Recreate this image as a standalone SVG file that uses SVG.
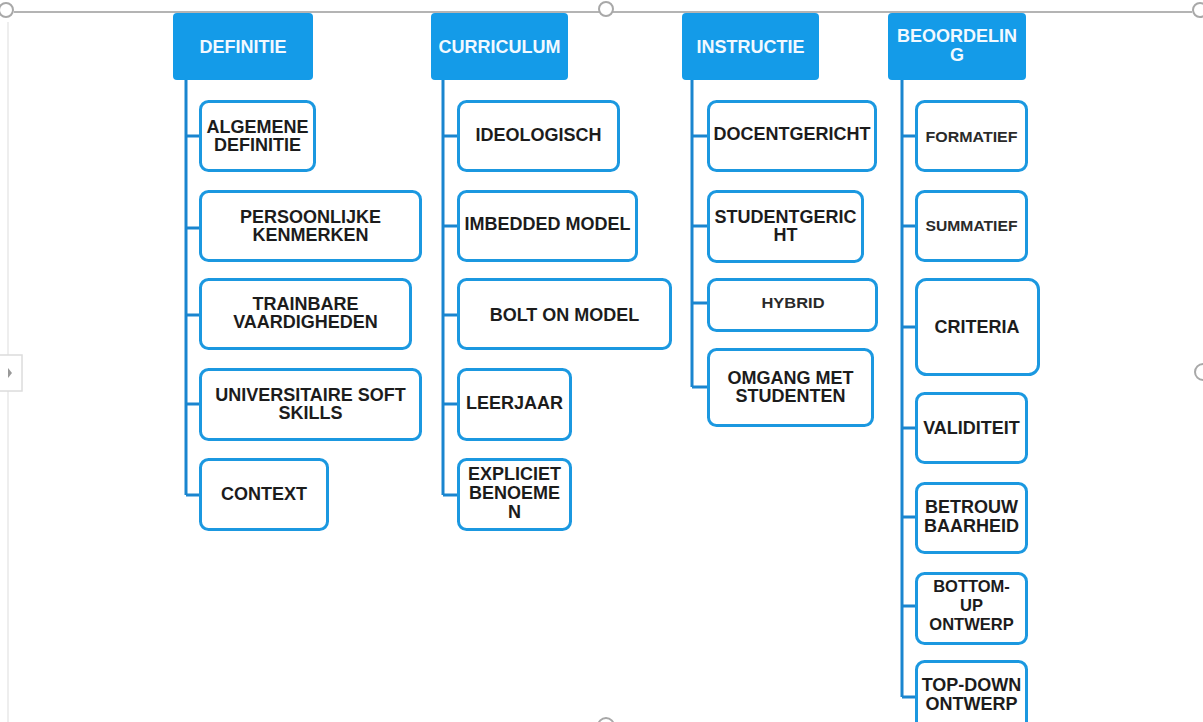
<svg xmlns="http://www.w3.org/2000/svg" width="1203" height="722" viewBox="0 0 1203 722">
<style>
.frame{fill:none;stroke:#b4b4b4;stroke-width:2}
.handle{fill:#fff;stroke:#a8a8a8;stroke-width:2}
.hdr{fill:#149be8}
.hdrt{font-family:"Liberation Sans",Arial,sans-serif;font-weight:bold;font-size:18px;fill:#f2f9ff;text-anchor:middle}
.box{fill:#fff;stroke:#1b98e0;stroke-width:3}
.t{font-family:"Liberation Sans",Arial,sans-serif;font-weight:bold;font-size:18px;fill:#1c1c1c;text-anchor:middle}
.t17{font-family:"Liberation Sans",Arial,sans-serif;font-weight:bold;font-size:16.5px;fill:#1c1c1c;text-anchor:middle}
.ts{font-family:"Liberation Sans",Arial,sans-serif;font-weight:bold;font-size:14px;fill:#2a2a2a;text-anchor:middle}
.con{fill:none;stroke:#1a85cf;stroke-width:3}
</style>
<rect width="1203" height="722" fill="#fff"/>
<g id="frame">
<line class="frame" x1="14" y1="12" x2="1192" y2="12"/>
<line x1="8" y1="22" x2="8" y2="722" stroke="#e8e8e8" stroke-width="1.5"/>
<circle class="handle" cx="6" cy="10" r="7"/>
<circle class="handle" cx="606" cy="9" r="7"/>
<circle class="handle" cx="1200" cy="10" r="7"/>
<circle class="handle" cx="1203" cy="372" r="8"/>
<circle class="handle" cx="606" cy="726" r="8"/>
<rect x="-2" y="355" width="24" height="36" fill="#fff" stroke="#dcdcdc" stroke-width="1.5"/>
<path d="M8 368 L12 373 L8 378 Z" fill="#999"/>
</g>
<g id="connectors">
<path class="con" d="M186 80 V495 M186 136 H199 M186 228 H199 M186 315 H199 M186 404 H199 M186 495 H199"/>
<path class="con" d="M443 80 V495 M443 136 H457 M443 226 H457 M443 315 H457 M443 404 H457 M443 495 H457"/>
<path class="con" d="M692 80 V387 M692 136 H707 M692 226 H707 M692 303 H707 M692 387 H707"/>
<path class="con" d="M902 80 V697 M902 136 H915 M902 226 H915 M902 327 H915 M902 428 H915 M902 517 H915 M902 606 H915 M902 697 H915"/>
</g>
<g id="definitie">
<rect class="hdr" x="173" y="13" width="140" height="67" rx="4"/>
<text class="hdrt" x="243" y="53">DEFINITIE</text>
</g>
<g id="curriculum">
<rect class="hdr" x="431" y="13" width="137" height="67" rx="4"/>
<text class="hdrt" x="499.5" y="53">CURRICULUM</text>
</g>
<g id="instructie">
<rect class="hdr" x="682" y="13" width="137" height="67" rx="4"/>
<text class="hdrt" x="750.5" y="53">INSTRUCTIE</text>
</g>
<g id="beoordeling">
<rect class="hdr" x="888" y="13" width="138" height="67" rx="4"/>
<text class="hdrt" x="957" y="42">BEOORDELIN</text>
<text class="hdrt" x="957" y="61">G</text>
</g>
<g id="algemene-definitie">
<rect class="box" x="200.5" y="101.5" width="114" height="69" rx="8"/>
<text class="t" x="257.5" y="133">ALGEMENE</text>
<text class="t" x="257.5" y="151">DEFINITIE</text>
</g>
<g id="persoonlijke-kenmerken">
<rect class="box" x="200.5" y="191.5" width="220" height="69" rx="8"/>
<text class="t" x="310.5" y="223">PERSOONLIJKE</text>
<text class="t" x="310.5" y="241">KENMERKEN</text>
</g>
<g id="trainbare-vaardigheden">
<rect class="box" x="200.5" y="279.5" width="210" height="69" rx="8"/>
<text class="t" x="305.5" y="310">TRAINBARE</text>
<text class="t" x="305.5" y="328">VAARDIGHEDEN</text>
</g>
<g id="universitaire-soft-skills">
<rect class="box" x="200.5" y="369.5" width="220" height="70" rx="8"/>
<text class="t" x="310.5" y="401">UNIVERSITAIRE SOFT</text>
<text class="t" x="310.5" y="419">SKILLS</text>
</g>
<g id="context">
<rect class="box" x="200.5" y="459.5" width="127" height="70" rx="8"/>
<text class="t" x="264" y="500">CONTEXT</text>
</g>
<g id="ideologisch">
<rect class="box" x="458.5" y="101.5" width="160" height="69" rx="8"/>
<text class="t" x="538.5" y="141">IDEOLOGISCH</text>
</g>
<g id="imbedded-model">
<rect class="box" x="458.5" y="191.5" width="178" height="69" rx="8"/>
<text class="t" x="547.5" y="230">IMBEDDED MODEL</text>
</g>
<g id="bolt-on-model">
<rect class="box" x="458.5" y="279.5" width="212" height="69" rx="8"/>
<text class="t" x="564.5" y="321">BOLT ON MODEL</text>
</g>
<g id="leerjaar">
<rect class="box" x="458.5" y="369.5" width="112" height="70" rx="8"/>
<text class="t" x="514.5" y="409">LEERJAAR</text>
</g>
<g id="expliciet-benoemen">
<rect class="box" x="458.5" y="459.5" width="112" height="70" rx="8"/>
<text class="t" x="514.5" y="480">EXPLICIET</text>
<text class="t" x="514.5" y="499">BENOEME</text>
<text class="t" x="514.5" y="518">N</text>
</g>
<g id="docentgericht">
<rect class="box" x="708.5" y="101.5" width="167" height="69" rx="8"/>
<text class="t" x="792" y="140">DOCENTGERICHT</text>
</g>
<g id="studentgericht">
<rect class="box" x="708.5" y="191.5" width="154" height="70" rx="8"/>
<text class="t" x="785.5" y="223">STUDENTGERIC</text>
<text class="t" x="785.5" y="241">HT</text>
</g>
<g id="hybrid">
<rect class="box" x="708.5" y="279.5" width="168" height="51" rx="8"/>
<text class="ts" x="793" y="308" textLength="63" lengthAdjust="spacingAndGlyphs">HYBRID</text>
</g>
<g id="omgang-met-studenten">
<rect class="box" x="708.5" y="349.5" width="164" height="76" rx="8"/>
<text class="t" x="790.5" y="384">OMGANG MET</text>
<text class="t" x="790.5" y="402">STUDENTEN</text>
</g>
<g id="formatief">
<rect class="box" x="916.5" y="101.5" width="110" height="69" rx="8"/>
<text class="ts" x="971.5" y="142" textLength="92" lengthAdjust="spacingAndGlyphs">FORMATIEF</text>
</g>
<g id="summatief">
<rect class="box" x="916.5" y="191.5" width="110" height="69" rx="8"/>
<text class="ts" x="971.5" y="231" textLength="92" lengthAdjust="spacingAndGlyphs">SUMMATIEF</text>
</g>
<g id="criteria">
<rect class="box" x="916.5" y="279.5" width="122" height="95" rx="10"/>
<text class="t" x="977" y="333">CRITERIA</text>
</g>
<g id="validiteit">
<rect class="box" x="916.5" y="393.5" width="110" height="69" rx="8"/>
<text class="t" x="971.5" y="434">VALIDITEIT</text>
</g>
<g id="betrouwbaarheid">
<rect class="box" x="916.5" y="483.5" width="110" height="69" rx="8"/>
<text class="t" x="971.5" y="513">BETROUW</text>
<text class="t" x="971.5" y="532">BAARHEID</text>
</g>
<g id="bottom-up-ontwerp">
<rect class="box" x="916.5" y="573.5" width="110" height="70" rx="8"/>
<text class="t17" x="971.5" y="592">BOTTOM-</text>
<text class="t17" x="971.5" y="611">UP</text>
<text class="t17" x="971.5" y="630">ONTWERP</text>
</g>
<g id="top-down-ontwerp">
<rect class="box" x="916.5" y="661.5" width="110" height="75" rx="8"/>
<text class="t" x="971.5" y="691">TOP-DOWN</text>
<text class="t" x="971.5" y="710">ONTWERP</text>
</g>
</svg>
